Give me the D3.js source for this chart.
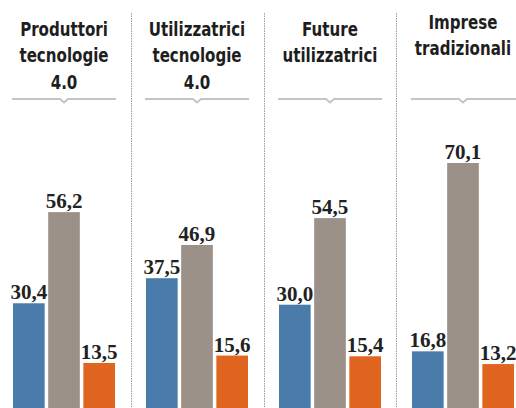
<!DOCTYPE html>
<html>
<head>
<meta charset="utf-8">
<script src="https://cdn.jsdelivr.net/npm/d3@7"></script>
<style>
  html, body { margin: 0; padding: 0; background: #fff; }
  svg { display: block; }
</style>
</head>
<body>
<svg id="chart" width="516" height="408"></svg>
<script>
// ---- data ----
const groups = ["Produttori tecnologie 4.0", "Utilizzatrici tecnologie 4.0", "Future utilizzatrici", "Imprese tradizionali"];
const groupTitleLines = [
  ["Produttori", "tecnologie", "4.0"],
  ["Utilizzatrici", "tecnologie", "4.0"],
  ["Future", "utilizzatrici"],
  ["Imprese", "tradizionali"]
];
const seriesNames = ["A", "B", "C"];
const seriesA = [30.4, 37.5, 30.0, 16.8];
const seriesB = [56.2, 46.9, 54.5, 70.1];
const seriesC = [13.5, 15.6, 15.4, 13.2];

// ---- layout ----
const W = 516, H = 408;
const colors = { A: "#4a7cab", B: "#9b9189", C: "#e0651f" };
const titleOffsets = [0, 0, 0, -7];

const svg = d3.select("#chart");

const x0 = d3.scaleBand().domain(groups).range([13, 514]).paddingInner(0.233).paddingOuter(0);
const x1 = d3.scaleBand().domain(seriesNames).range([0, x0.bandwidth()]).paddingInner(0.1).paddingOuter(0);
const y = d3.scaleLinear().domain([0, 70.1]).range([410.7, 163]);

const rows = groups.map((g, i) => ({
  group: g, i,
  values: [
    { key: "A", v: seriesA[i] },
    { key: "B", v: seriesB[i] },
    { key: "C", v: seriesC[i] }
  ]
}));

// dividers
for (let i = 1; i < groups.length; i++) {
  const xa = x0(groups[i - 1]) + x0.bandwidth();
  const xb = x0(groups[i]);
  const xm = Math.round((xa + xb) / 2) + 0.5;
  svg.append("line")
    .attr("x1", xm).attr("x2", xm)
    .attr("y1", 13).attr("y2", H)
    .attr("stroke", "#9a9a9a")
    .attr("stroke-width", 1)
    .attr("stroke-dasharray", "1.5,1");
}

const g = svg.selectAll("g.grp").data(rows).enter().append("g")
  .attr("class", "grp")
  .attr("transform", d => `translate(${x0(d.group)},0)`);

// titles
g.each(function(d) {
  const sel = d3.select(this);
  const cx = x0.bandwidth() / 2;
  const lines = groupTitleLines[d.i];
  const t = sel.append("text")
    .attr("transform", `translate(${cx},0) scale(0.86,1)`)
    .attr("text-anchor", "middle")
    .attr("font-family", "'DejaVu Sans Condensed', 'Liberation Sans Narrow', sans-serif")
    .attr("font-weight", "bold")
    .attr("font-size", 19.5)
    .attr("fill", "#1e1e1e");
  lines.forEach((ln, k) => {
    t.append("tspan").attr("x", 0).attr("y", 36 + titleOffsets[d.i] + k * 26.5).text(ln);
  });
  // underline with notch
  const x1l = -1, x2l = d.i === 3 ? 106 : x0.bandwidth() + 1, ly = 99;
  sel.append("path")
    .attr("d", `M${x1l},${ly} L${cx - 4},${ly} L${cx},${ly + 3.5} L${cx + 4},${ly} L${x2l},${ly}`)
    .attr("fill", "none")
    .attr("stroke", "#c4c4c4")
    .attr("stroke-width", 2);
});

// bars
g.selectAll("rect").data(d => d.values).enter().append("rect")
  .attr("x", d => x1(d.key))
  .attr("width", x1.bandwidth())
  .attr("y", d => y(d.v))
  .attr("height", d => y(0) - y(d.v))
  .attr("fill", d => colors[d.key]);

// value labels
g.selectAll("text.val").data(d => d.values).enter().append("text")
  .attr("class", "val")
  .attr("x", d => x1(d.key) + x1.bandwidth() / 2)
  .attr("y", d => y(d.v) - 4)
  .attr("text-anchor", "middle")
  .attr("font-family", "'Liberation Serif', 'DejaVu Serif', serif")
  .attr("font-weight", "bold")
  .attr("font-size", 21)
  .attr("fill", "#222")
  .text(d => d3.format(".1f")(d.v).replace(".", ","));
</script>
</body>
</html>
